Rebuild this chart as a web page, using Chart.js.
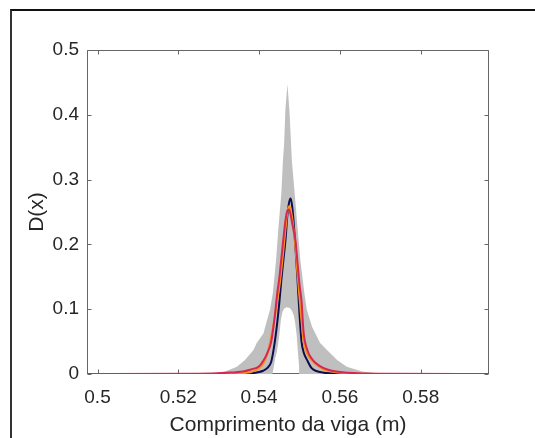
<!DOCTYPE html>
<html>
<head>
<meta charset="utf-8">
<script src="https://cdn.jsdelivr.net/npm/chart.js@4/dist/chart.umd.min.js"></script>
<style>
  body { margin: 0; background: #fff; }
  #wrap { position: relative; width: 535px; height: 438px; }
  #frame { position: absolute; left: 10px; top: 9px; width: 525px; height: 429px;
           border-top: 2px solid #111; border-left: 2px solid #333; pointer-events: none; }
</style>
</head>
<body>
<div id="wrap">
  <canvas id="chart" width="535" height="438"></canvas>
  <div id="frame"></div>
</div>
<script>
// tick labels
let xTicks = [0.5, 0.52, 0.54, 0.56, 0.58];
let xTickLabels = ["0.5", "0.52", "0.54", "0.56", "0.58"];
let yTicks = [0, 0.1, 0.2, 0.3, 0.4, 0.5];
let yTickLabels = ["0", "0.1", "0.2", "0.3", "0.4", "0.5"];

// grey band, upper edge
let bandX = [0.4974, 0.525, 0.529, 0.5316, 0.5345, 0.5365, 0.5386, 0.5394, 0.5411, 0.5415, 0.5427, 0.5434,
  0.5442, 0.5448, 0.5455, 0.5459, 0.5462, 0.5465, 0.547, 0.5475, 0.5479, 0.5481, 0.5488, 0.5495, 0.5502,
  0.5512, 0.5518, 0.5531, 0.5539, 0.5551, 0.5568, 0.5593, 0.5617, 0.5655, 0.569, 0.575, 0.5969];
let bandUpper = [0, 0, 0.001, 0.004, 0.011, 0.0216, 0.037, 0.048, 0.063, 0.073, 0.099, 0.125,
  0.176, 0.227, 0.279, 0.33, 0.356, 0.407, 0.447, 0.407, 0.356, 0.33, 0.279, 0.227, 0.176,
  0.125, 0.099, 0.073, 0.063, 0.048, 0.037, 0.0216, 0.011, 0.004, 0.001, 0, 0];

// grey band, lower edge
let holeX = [0.4974, 0.5433, 0.5436, 0.544, 0.5444, 0.545, 0.5454, 0.5458, 0.5462, 0.5468, 0.5476,
  0.5481, 0.5486, 0.5489, 0.5493, 0.5496, 0.5499, 0.5501, 0.5969];
let bandLower = [0, 0, 0.01, 0.025, 0.034, 0.06, 0.084, 0.096, 0.101, 0.103, 0.102,
  0.098, 0.09, 0.08, 0.06, 0.034, 0.012, 0, 0];

// curves
let lineX = [0.4974, 0.525, 0.532, 0.536, 0.538, 0.54, 0.541, 0.542, 0.543, 0.5438, 0.5445, 0.545, 0.5455,
  0.546, 0.5465, 0.547, 0.5474, 0.5478, 0.5482, 0.5486, 0.549, 0.5495, 0.55, 0.5505, 0.551, 0.552,
  0.553, 0.554, 0.556, 0.558, 0.562, 0.57, 0.5969];
let navyValues = [0, 0, 0, 0.0005, 0.001, 0.003, 0.005, 0.009, 0.019, 0.046, 0.08, 0.11, 0.145,
  0.175, 0.205, 0.245, 0.264, 0.271, 0.258, 0.23, 0.195, 0.146, 0.092, 0.05, 0.034, 0.02,
  0.009, 0.005, 0.002, 0.001, 0, 0, 0];
let orangeValues = [0, 0, 0.0005, 0.0015, 0.003, 0.009, 0.016, 0.03, 0.058, 0.085, 0.114, 0.134, 0.16,
  0.19, 0.222, 0.25, 0.259, 0.255, 0.24, 0.22, 0.195, 0.155, 0.118, 0.082, 0.05, 0.03,
  0.021, 0.015, 0.007, 0.004, 0.001, 0, 0];
let redValues = [0, 0.0005, 0.002, 0.004, 0.007, 0.012, 0.02, 0.032, 0.05, 0.085, 0.125, 0.148, 0.178,
  0.208, 0.236, 0.252, 0.254, 0.246, 0.232, 0.22, 0.206, 0.172, 0.138, 0.112, 0.065, 0.036,
  0.024, 0.017, 0.009, 0.005, 0.002, 0.0005, 0];

function pts(xs, ys) {
  return xs.map((x, i) => ({ x: x, y: ys[i] }));
}

const textColor = "#262626";
const fontFamily = "'Liberation Sans', Arial, sans-serif";

// MATLAB-like box with inward ticks, drawn under the data
const boxPlugin = {
  id: "box",
  beforeDatasetsDraw(chart) {
    let ctx = chart.ctx;
    let a = chart.chartArea;
    let xs = chart.scales.x, ys = chart.scales.y;
    let L = Math.round(a.left) + 0.5, R = Math.round(a.right) - 0.5;
    let T = Math.round(a.top) + 0.5, B = Math.round(a.bottom) - 0.5;
    ctx.save();
    ctx.strokeStyle = "#666";
    ctx.lineWidth = 1;
    ctx.beginPath();
    ctx.rect(L, T, R - L, B - T);
    xTicks.forEach(v => {
      let px = Math.round(xs.getPixelForValue(v)) + 0.5;
      ctx.moveTo(px, B); ctx.lineTo(px, B - 4);
      ctx.moveTo(px, T); ctx.lineTo(px, T + 4);
    });
    yTicks.forEach(v => {
      let py = Math.round(ys.getPixelForValue(v)) + 0.5;
      ctx.moveTo(L, py); ctx.lineTo(L + 4, py);
      ctx.moveTo(R, py); ctx.lineTo(R - 4, py);
    });
    ctx.stroke();
    ctx.restore();
  }
};

const lineStyle = { pointRadius: 0, borderWidth: 2, fill: false, cubicInterpolationMode: "monotone" };

new Chart(document.getElementById("chart"), {
  type: "line",
  data: {
    datasets: [
      Object.assign({ label: "red", data: pts(lineX, redValues), borderColor: "#d7264f", order: 1 }, lineStyle),
      Object.assign({ label: "orange", data: pts(lineX, orangeValues), borderColor: "#f7901e", order: 2 }, lineStyle),
      Object.assign({ label: "navy", data: pts(lineX, navyValues), borderColor: "#0e0e4e", order: 3 }, lineStyle),
      { label: "upper", data: pts(bandX, bandUpper), borderWidth: 0, borderColor: "rgba(0,0,0,0)",
        backgroundColor: "#bfbfbf", pointRadius: 0, fill: "+1", tension: 0, order: 4 },
      { label: "lower", data: pts(holeX, bandLower), borderWidth: 0, borderColor: "rgba(0,0,0,0)",
        pointRadius: 0, fill: false, tension: 0, order: 5 }
    ]
  },
  options: {
    responsive: false,
    animation: false,
    layout: { padding: { left: 0, top: 50, right: 46, bottom: 0 } },
    plugins: { legend: { display: false }, tooltip: { enabled: false } },
    scales: {
      x: {
        type: "linear", min: 0.4974, max: 0.5969,
        grid: { display: false, drawTicks: false }, border: { display: false },
        afterBuildTicks: s => { s.ticks = xTicks.map(v => ({ value: v })); },
        ticks: { padding: 12, color: textColor, font: { family: fontFamily, size: 19 },
                 maxRotation: 0, autoSkip: false,
                 callback: (v, i) => xTickLabels[i] },
        title: { display: true, text: "Comprimento da viga (m)", color: textColor,
                 font: { family: fontFamily, size: 21 }, padding: { top: 2, bottom: 0 } },
        afterFit: s => { s.height = 64; }
      },
      y: {
        type: "linear", min: 0, max: 0.5,
        grid: { display: false, drawTicks: false }, border: { display: false },
        afterBuildTicks: s => { s.ticks = yTicks.map(v => ({ value: v })); },
        ticks: { padding: 8, color: textColor, font: { family: fontFamily, size: 19 },
                 autoSkip: false,
                 callback: (v, i) => yTickLabels[i] },
        title: { display: true, text: "D(x)", color: textColor,
                 font: { family: fontFamily, size: 21 }, padding: { top: 25, bottom: 0 } },
        afterFit: s => { s.width = 87; }
      }
    }
  },
  plugins: [boxPlugin]
});
</script>
</body>
</html>
